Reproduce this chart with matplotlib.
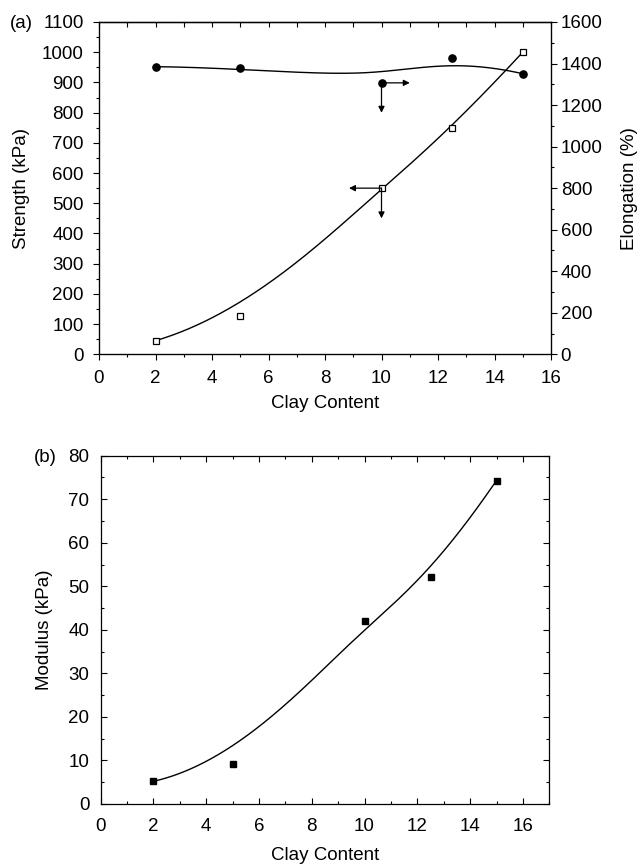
import numpy as np
import matplotlib.pyplot as plt
from matplotlib.ticker import MultipleLocator

plt.rcParams['font.family'] = ['Liberation Sans', 'DejaVu Sans']
plt.rcParams['font.size'] = 13.5

# data
clay = [2, 5, 10, 12.5, 15]
strength = [45, 128, 550, 748, 1000]        # kPa, open squares
elongation = [1385, 1380, 1307, 1428, 1351]  # %, filled circles
modulus = [5.2, 9.3, 42.0, 52.2, 74.3]       # kPa


def bspline(px, py, k=3, n=300):
    # clamped B-spline with the data as control points (Origin style smoothing)
    px = np.asarray(px, float)
    py = np.asarray(py, float)
    m = len(px)
    t = np.concatenate([np.zeros(k), np.linspace(0, 1, m - k + 1), np.ones(k)])
    u = np.linspace(0, 1 - 1e-9, n)
    N = np.zeros((m + k, n))
    for i in range(m + k):
        N[i] = ((t[i] <= u) & (u < t[i + 1])).astype(float)
    for p in range(1, k + 1):
        Nn = np.zeros((m + k - p, n))
        for i in range(m + k - p):
            a = 0.0
            b = 0.0
            if t[i + p] > t[i]:
                a = (u - t[i]) / (t[i + p] - t[i]) * N[i]
            if t[i + p + 1] > t[i + 1]:
                b = (t[i + p + 1] - u) / (t[i + p + 1] - t[i + 1]) * N[i + 1]
            Nn[i] = a + b
        N = Nn
    return N[:m].T @ px, N[:m].T @ py


fig = plt.figure(figsize=(6.39, 8.65), dpi=100)

# ---------------- (a)
ax1 = fig.add_axes([99 / 639, 1 - 354.3 / 865, 452 / 639, 332.3 / 865])
ax2 = ax1.twinx()

cx, cy = bspline(clay, strength)
ax1.plot(cx, cy, color='k', lw=1)
ax1.plot(clay, strength, 's', ms=4, mfc='white', mec='k', mew=0.9)

ex, ey = bspline(clay, elongation)
ax2.plot(ex, ey, color='k', lw=1)
ax2.plot(clay, elongation, 'o', ms=5.2, color='k')

ax1.set_xlim(0, 16)
ax1.set_ylim(0, 1100)
ax2.set_ylim(0, 1600)
ax1.xaxis.set_major_locator(MultipleLocator(2))
ax1.xaxis.set_minor_locator(MultipleLocator(1))
ax1.yaxis.set_major_locator(MultipleLocator(100))
ax1.yaxis.set_minor_locator(MultipleLocator(50))
ax2.yaxis.set_major_locator(MultipleLocator(200))
ax2.yaxis.set_minor_locator(MultipleLocator(100))

ax1.tick_params(axis='x', which='major', direction='out', length=4, width=0.8, pad=7)
ax1.tick_params(axis='x', which='minor', direction='out', length=2.5, width=0.8)
ax1.tick_params(axis='y', which='major', direction='out', length=4, width=0.8, pad=7)
ax1.tick_params(axis='y', which='minor', direction='out', length=2.5, width=0.8)
ax2.tick_params(axis='y', which='major', direction='out', length=4, width=0.8, pad=3)
ax2.tick_params(axis='y', which='minor', direction='out', length=2.5, width=0.8)

# inward ticks along the top spine
top = ax1.secondary_xaxis('top')
top.xaxis.set_major_locator(MultipleLocator(1))
top.tick_params(axis='x', which='major', direction='in', length=3.5, width=0.8, labeltop=False)
for s in ax1.spines.values():
    s.set_linewidth(0.9)
top.spines['top'].set_linewidth(0.9)

ax1.set_xlabel('Clay Content')
ax1.xaxis.set_label_coords(0.5, -0.122)
ax1.set_ylabel('Strength (kPa)')
ax1.yaxis.set_label_coords(-0.153, 0.5)
ax2.set_ylabel('Elongation (%)')
ax2.yaxis.set_label_coords(1.155, 0.5)

# axis pointer arrows
arr = dict(arrowstyle='-|>', color='k', lw=0.9, mutation_scale=9, shrinkA=0, shrinkB=0)
ax2.annotate('', xy=(11.0, elongation[2]), xytext=(10, elongation[2]), arrowprops=arr)
ax2.annotate('', xy=(10, 1163), xytext=(10, elongation[2]), arrowprops=arr)
ax1.annotate('', xy=(8.85, strength[2]), xytext=(10, strength[2]), arrowprops=arr)
ax1.annotate('', xy=(10, 450), xytext=(10, strength[2]), arrowprops=arr)

fig.text(21.5 / 639, 1 - 23.5 / 865, '(a)', ha='center', va='center', fontsize=13.5)

# ---------------- (b)
ax3 = fig.add_axes([100.5 / 639, 1 - 804 / 865, 448.8 / 639, 348.3 / 865])
mx, my = bspline(clay, modulus)
ax3.plot(mx, my, color='k', lw=1)
ax3.plot(clay, modulus, 's', ms=4.6, color='k')

ax3.set_xlim(0, 17)
ax3.set_ylim(0, 80)
ax3.xaxis.set_major_locator(MultipleLocator(2))
ax3.xaxis.set_minor_locator(MultipleLocator(1))
ax3.yaxis.set_major_locator(MultipleLocator(10))
ax3.yaxis.set_minor_locator(MultipleLocator(5))
ax3.tick_params(axis='both', which='major', direction='in', length=4, width=0.8)
ax3.tick_params(axis='both', which='minor', direction='in', length=2.5, width=0.8)
ax3.tick_params(axis='x', pad=10)
ax3.tick_params(axis='y', pad=8)
ax3.tick_params(which='both', top=True, right=True)
for s in ax3.spines.values():
    s.set_linewidth(0.9)
ax3.set_xlabel('Clay Content')
ax3.xaxis.set_label_coords(0.5, -0.123)
ax3.set_ylabel('Modulus (kPa)')
ax3.yaxis.set_label_coords(-0.106, 0.5)

fig.text(45 / 639, 1 - 458 / 865, '(b)', ha='center', va='center', fontsize=13.5)

fig.savefig('out.png', dpi=100)
